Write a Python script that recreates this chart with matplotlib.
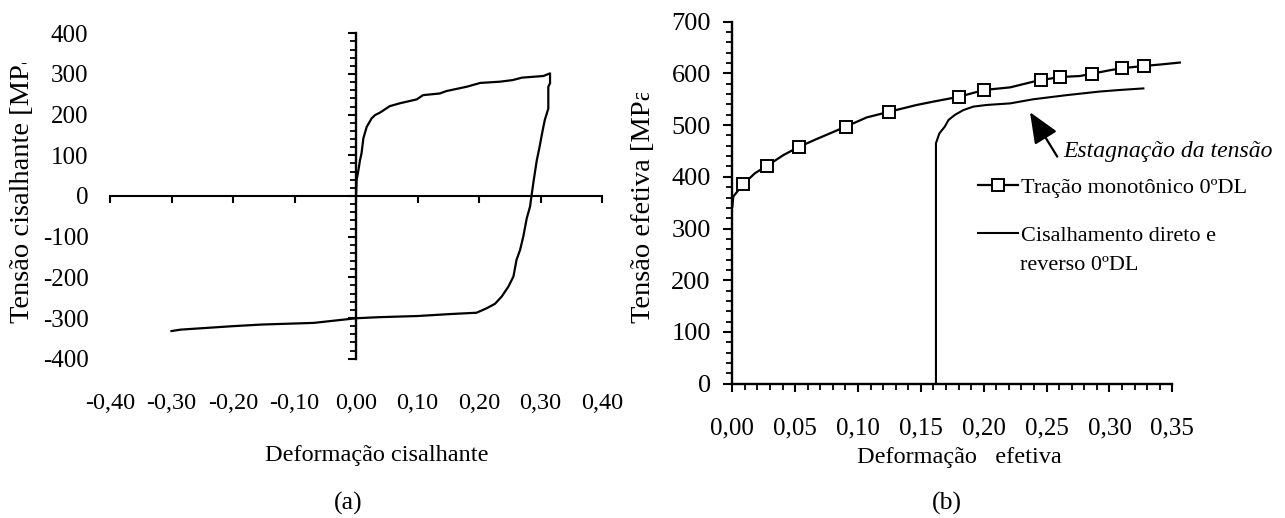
import matplotlib
matplotlib.use("Agg")
import matplotlib.pyplot as plt
from matplotlib.transforms import Bbox, TransformedBbox
import numpy as np

plt.rcParams['font.family'] = ['Liberation Serif', 'DejaVu Serif']

# ---------------- data (a): shear stress vs shear strain ----------------
shear_strain = [0.0, 0.001, 0.004, 0.0065, 0.009, 0.012, 0.0174, 0.0255, 0.031, 0.039,
                0.055, 0.0715, 0.0987, 0.109, 0.136, 0.147, 0.18, 0.202, 0.234, 0.2547,
                0.27, 0.3046, 0.3155,
                0.3155, 0.3127, 0.3127, 0.307, 0.3036, 0.298, 0.294, 0.289, 0.2857,
                0.283, 0.2776, 0.272, 0.2667, 0.261, 0.256, 0.2477, 0.237, 0.226,
                0.2125, 0.196, 0.156, 0.101, 0.036, 0.001, -0.0206, -0.069, -0.153,
                -0.2, -0.24, -0.285, -0.30]
shear_stress = [0, 39, 64, 88, 105, 142, 170, 191, 199, 205,
                221, 228, 237.5, 248, 252, 258, 268.6, 278, 281, 285,
                291, 295, 301.5,
                277, 268.6, 215, 187, 162, 117, 88, 39, 4,
                -26, -55, -100, -133, -157, -198, -223, -247, -265,
                -276, -287, -290, -295, -298, -300.5, -304, -312, -316,
                -320, -324, -328.5, -332]
a_xticks = [-0.40, -0.30, -0.20, -0.10, 0.00, 0.10, 0.20, 0.30, 0.40]
a_xlabels = ['-0,40', '-0,30', '-0,20', '-0,10', '0,00', '0,10', '0,20', '0,30', '0,40']
a_yticks = [-400, -300, -200, -100, 0, 100, 200, 300, 400]
a_ylabels = ['-400', '-300', '-200', '-100', '0', '100', '200', '300', '400']

# ---------------- data (b): effective stress vs effective strain ----------------
mono_strain = [0.0, 0.0008, 0.0088, 0.018, 0.0274, 0.0406, 0.053, 0.067, 0.0902, 0.107,
               0.112, 0.125, 0.1467, 0.16, 0.1806, 0.2002, 0.221, 0.2394, 0.2453, 0.2607,
               0.2766, 0.2864, 0.30, 0.3097, 0.3275, 0.3396, 0.356]
mono_stress = [342, 362, 386, 407, 421, 442, 458, 473, 497, 515,
               518, 526, 539, 545.5, 555, 568, 573, 584, 587, 593,
               595, 599.5, 606, 610, 614.5, 617, 621]
mono_marker_idx = [2, 4, 6, 8, 11, 14, 15, 18, 19, 21, 23, 24]
cyc_strain = [0.162, 0.162, 0.1647, 0.169, 0.172, 0.177, 0.1837, 0.1917, 0.2024, 0.2209,
              0.2394, 0.266, 0.2925, 0.3084, 0.327]
cyc_stress = [0, 465, 484, 497, 510, 519.7, 529, 535.8, 539, 542,
              550, 558, 565, 568, 571]
b_xticks = [0.00, 0.05, 0.10, 0.15, 0.20, 0.25, 0.30, 0.35]
b_xlabels = ['0,00', '0,05', '0,10', '0,15', '0,20', '0,25', '0,30', '0,35']
b_yticks = [0, 100, 200, 300, 400, 500, 600, 700]
b_ylabels = ['0', '100', '200', '300', '400', '500', '600', '700']
legend_labels = ['Tração monotônico 0ºDL', 'Cisalhamento direto e']
legend_label2_cont = 'reverso 0ºDL'

W, H = 1285, 518
fig = plt.figure(figsize=(W / 100, H / 100), dpi=100)

def fx(px):
    return px / W

def fy(py):
    return (H - py) / H

# ---------------- panel (a) ----------------
axa = fig.add_axes([fx(110), fy(358.7), (602 - 110) / W, (358.7 - 33.3) / H])
axa.set_xlim(-0.4, 0.4)
axa.set_ylim(-400, 400)
axa.patch.set_visible(False)
for s in ['top', 'right']:
    axa.spines[s].set_visible(False)
axa.spines['left'].set_position(('data', 0))
axa.spines['bottom'].set_position(('data', 0))
axa.spines['left'].set_linewidth(1.7)
axa.spines['bottom'].set_linewidth(1.5)
axa.set_xticks(a_xticks)
axa.set_yticks(a_yticks)
axa.set_yticks(np.arange(-400, 401, 20), minor=True)
axa.tick_params(axis='x', direction='out', length=5, width=1.5, labelbottom=False)
axa.tick_params(axis='y', which='major', direction='out', length=5.5, width=1.5, labelleft=False)
axa.tick_params(axis='y', which='minor', direction='out', length=4.3, width=1.3)
axa.plot(shear_strain, shear_stress, color='black', lw=1.6)

sxa = axa.secondary_xaxis('bottom')
sxa.spines['bottom'].set_visible(False)
sxa.set_xticks(a_xticks, a_xlabels)
sxa.tick_params(length=0, pad=25, labelsize=17.5)
sya = axa.secondary_yaxis('left')
sya.spines['left'].set_visible(False)
sya.set_yticks(a_yticks, a_ylabels)
sya.tick_params(length=0, pad=15.5, labelsize=18)

yla = fig.text(fx(23), fy(323), 'Tensão cisalhante [MPa]', rotation=90,
               ha='center', va='bottom', fontsize=20.5)
yla.set_clip_box(TransformedBbox(Bbox([[0, 0], [fx(100), fy(63)]]), fig.transFigure))
yla.set_clip_on(True)

fig.text(fx(377), fy(455), 'Deformação cisalhante', ha='center', va='center', fontsize=17.5)
fig.text(fx(348), fy(503), '(a)', ha='center', va='center', fontsize=18.5)

# ---------------- panel (b) ----------------
axb = fig.add_axes([fx(732.3), fy(383.7), (1172.3 - 732.3) / W, (383.7 - 21.7) / H])
axb.set_xlim(0, 0.35)
axb.set_ylim(0, 700)
axb.patch.set_visible(False)
for s in ['top', 'right']:
    axb.spines[s].set_visible(False)
axb.spines['left'].set_linewidth(1.7)
axb.spines['bottom'].set_linewidth(1.7)
axb.set_xticks(b_xticks, b_xlabels)
axb.set_xticks(np.arange(0, 0.351, 0.01), minor=True)
axb.set_yticks(b_yticks, b_ylabels)
axb.set_yticks(np.arange(0, 701, 20), minor=True)
axb.tick_params(axis='x', which='major', direction='out', length=5.5, width=1.5, pad=19, labelsize=18)
axb.tick_params(axis='x', which='minor', direction='out', length=4, width=1.3)
axb.tick_params(axis='y', which='major', direction='out', length=6.5, width=1.5, pad=9, labelsize=19)
axb.tick_params(axis='y', which='minor', direction='out', length=4.5, width=1.3)

l1, = axb.plot(mono_strain, mono_stress, color='black', lw=1.6, marker='s', ms=8,
               mfc='white', mec='black', mew=1.4, markevery=mono_marker_idx, clip_on=False)
l2, = axb.plot(cyc_strain, cyc_stress, color='black', lw=1.5, clip_on=False)

leg = axb.legend([l1, l2], legend_labels, loc='upper left', numpoints=1,
                 bbox_to_anchor=(fx(978), fy(177)), bbox_transform=fig.transFigure,
                 frameon=False, borderpad=0, borderaxespad=0, handlelength=1.8,
                 handletextpad=0.15, labelspacing=1.25, fontsize=16)
fig.text(fx(1020), fy(266), legend_label2_cont, ha='left', va='center', fontsize=16)

axb.annotate('', xy=(0.2368, 525), xytext=(0.2585, 439),
             arrowprops=dict(arrowstyle='-|>,head_length=0.95,head_width=0.4',
                             mutation_scale=20, color='black', lw=1.6,
                             shrinkA=0, shrinkB=0))
axb.text(0.2633, 449, 'Estagnação da tensão', style='italic', fontsize=17,
         ha='left', va='center')

ylb = fig.text(fx(643), fy(323), 'Tensão efetiva [MPa]', rotation=90,
               ha='center', va='bottom', fontsize=20.5)
ylb.set_clip_box(TransformedBbox(Bbox([[fx(600), 0], [fx(700), fy(93)]]), fig.transFigure))
ylb.set_clip_on(True)

fig.text(fx(959), fy(458), 'Deformação   efetiva', ha='center', va='center', fontsize=17.5)
fig.text(fx(946.7), fy(503), '(b)', ha='center', va='center', fontsize=18.5)

fig.savefig('out.png', dpi=100)
